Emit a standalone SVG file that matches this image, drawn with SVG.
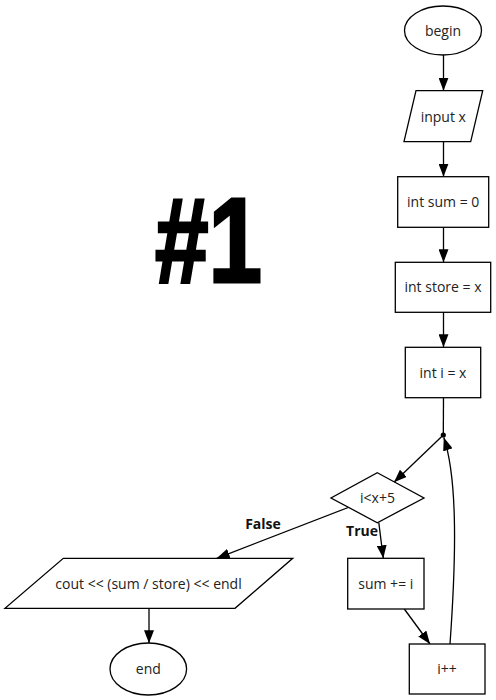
<svg xmlns="http://www.w3.org/2000/svg" width="496" height="700" viewBox="0 0 496 700">
<defs>
<marker id="arr" viewBox="0 0 13 10" refX="13" refY="5" markerWidth="13" markerHeight="10" orient="auto" markerUnits="userSpaceOnUse"><path d="M0,0 L13,5 L0,10 z" fill="#000"/></marker>
<style>
.s{fill:#fff;stroke:#000;stroke-width:1.3}
.t{font-family:"Open Sans","DejaVu Sans",sans-serif;font-size:14px;fill:#222;text-anchor:middle;dominant-baseline:central}
.l{font-family:"Open Sans","DejaVu Sans",sans-serif;font-size:14px;font-weight:bold;fill:#111;text-anchor:middle;dominant-baseline:central}
.c{fill:none;stroke:#000;stroke-width:1.3}
</style>
</defs>
<rect width="496" height="700" fill="#fff"/>
<text x="155" y="281.7" font-family="Liberation Sans, Arial, sans-serif" font-weight="bold" font-size="121" textLength="107" lengthAdjust="spacingAndGlyphs" stroke="#000" stroke-width="3" fill="#000">#1</text>
<g id="connectors">
<line class="c" x1="443.5" y1="55" x2="443.5" y2="90.7" marker-end="url(#arr)"/>
<line class="c" x1="443.5" y1="141.7" x2="443.5" y2="176.7" marker-end="url(#arr)"/>
<line class="c" x1="443.5" y1="227.3" x2="443.5" y2="262.3" marker-end="url(#arr)"/>
<line class="c" x1="443.5" y1="312.3" x2="443.5" y2="347.3" marker-end="url(#arr)"/>
<line class="c" x1="443.5" y1="397.7" x2="443.3" y2="435"/>
<circle cx="443.3" cy="435" r="2.6" fill="#000"/>
<line class="c" x1="443.3" y1="435" x2="394" y2="482.3" marker-end="url(#arr)"/>
<path class="c" d="M450,644 C456,560 458,480 443.8,437.5" marker-end="url(#arr)"/>
<line class="c" x1="348.3" y1="507.5" x2="216.7" y2="558.3" marker-end="url(#arr)"/>
<line class="c" x1="378.8" y1="522.7" x2="383.3" y2="558.3" marker-end="url(#arr)"/>
<line class="c" x1="404.3" y1="609" x2="430" y2="644" marker-end="url(#arr)"/>
<line class="c" x1="149" y1="608.3" x2="149" y2="643.3" marker-end="url(#arr)"/>
<text class="l" x="263" y="523">False</text>
<text class="l" x="362" y="530">True</text>
</g>
<g id="begin"><ellipse class="s" cx="443" cy="30.5" rx="38.5" ry="24.5"/><text class="t" x="443" y="30">begin</text></g>
<g id="input"><path class="s" d="M416,90.7 L482.7,90.7 L470.7,141.7 L404,141.7 z"/><text class="t" x="443.3" y="116">input x</text></g>
<g id="sum0"><rect class="s" x="397.7" y="176.7" width="91" height="50.6"/><text class="t" x="443.2" y="201.5">int sum = 0</text></g>
<g id="store"><rect class="s" x="395.3" y="262.3" width="95.4" height="50"/><text class="t" x="443" y="286.5">int store = x</text></g>
<g id="initi"><rect class="s" x="405.3" y="347.3" width="75.4" height="50.4"/><text class="t" x="443" y="372">int i = x</text></g>
<g id="cond"><path class="s" d="M377.3,472.7 L424,498 L377.3,522.7 L331,498 z"/><text class="t" x="377.5" y="497.5">i&lt;x+5</text></g>
<g id="output"><path class="s" d="M63.3,558.3 L292.7,558.3 L235,608.3 L5,608.3 z"/><text class="t" x="148.5" y="583">cout &lt;&lt; (sum / store) &lt;&lt; endl</text></g>
<g id="sumadd"><rect class="s" x="347.7" y="558.3" width="76.3" height="50.7"/><text class="t" x="385.8" y="583.5">sum += i</text></g>
<g id="inc"><rect class="s" x="409.3" y="644" width="75.7" height="50"/><text class="t" x="447" y="668.5">i++</text></g>
<g id="end"><ellipse class="s" cx="148.3" cy="669" rx="38.3" ry="26"/><text class="t" x="148.3" y="668.5">end</text></g>
</svg>
